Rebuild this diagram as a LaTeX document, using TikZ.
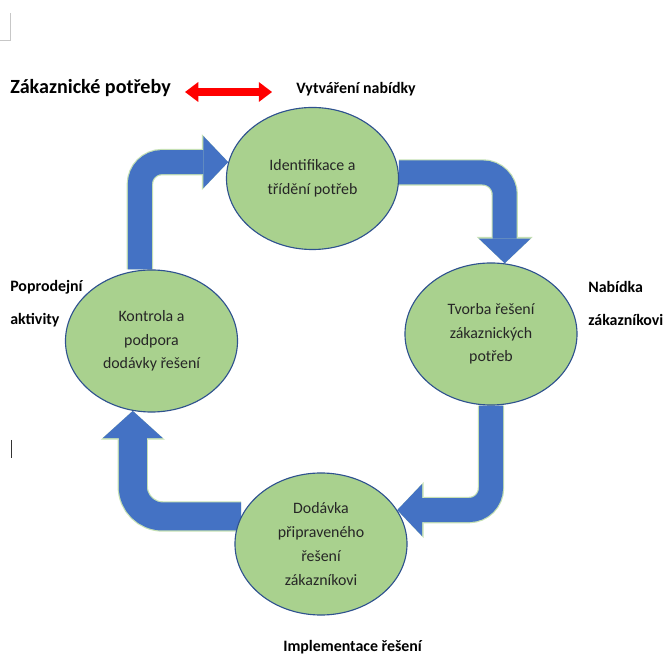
\documentclass[tikz,border=0pt]{standalone}
\usepackage{fontspec}
\setmainfont{Carlito}
\usepackage{xcolor}
\usetikzlibrary{arrows.meta,shapes.geometric}
\pgfdeclarelayer{background}
\pgfsetlayers{background,main}
\definecolor{cyfill}{RGB}{169,209,142}
\definecolor{cyline}{RGB}{47,82,143}
\definecolor{cyblue}{RGB}{68,114,196}
\definecolor{cyrim}{RGB}{197,224,180}
\definecolor{cytext}{RGB}{38,38,38}
\tikzset{
  krok/.style={ellipse, draw=cyline, line width=0.8pt, fill=cyfill,
               minimum width=4.3cm, minimum height=3.55cm, inner sep=0pt,
               align=center, text=cytext, font=\fontsize{11.3}{16.9}\selectfont},
  popis/.style={font=\bfseries\fontsize{11.3}{23.5}\selectfont, inner sep=0pt,
                align=left, anchor=west},
  tok/.style={draw=cyblue, line width=0.6cm, rounded corners=0.55cm,
              -{Triangle[length=0.62cm, width=1.3cm, line width=0pt]},
              preaction={draw=cyrim, line width=0.66cm,
                -{Triangle[length=0.66cm, width=1.4cm, line width=0pt]}}},
  tokwide/.style={draw=cyblue, line width=0.7cm, rounded corners=0.75cm,
              -{Triangle[length=0.68cm, width=1.5cm, line width=0pt]},
              preaction={draw=cyrim, line width=0.76cm,
                -{Triangle[length=0.72cm, width=1.6cm, line width=0pt]}}},
  vazba/.style={draw=red, line width=0.22cm,
                {Triangle[length=0.33cm, width=0.5cm, line width=0pt]}-{Triangle[length=0.33cm, width=0.5cm, line width=0pt]}},
}

\begin{document}
\begin{tikzpicture}[x=0.025cm, y=-0.025cm]
\useasboundingbox (0,0) rectangle (665,655);
% page corner and cursor
\draw[black!22, line width=0.5pt] (0,40) -- (10.6,40) -- (10.6,13);
\draw[black!80, line width=0.5pt] (11.7,440) -- (11.7,458);
% cycle
\node[krok] (ident) at (312.5,178.5) {Identifikace a\\třídění potřeb};
\node[krok] (tvorba) at (491,334) {Tvorba řešení\\zákaznických\\potřeb};
\node[krok] (kontr) at (151.5,341) {Kontrola a\\podpora\\dodávky řešení};
\node[krok] (dodav) at (321,544) {Dodávka\\připraveného\\řešení\\zákazníkovi};
% labels
\node[popis, font=\bfseries\fontsize{14.3}{17}\selectfont] (zak) at (10,88) {Zákaznické potřeby};
\node[popis] (vytv) at (296,89) {Vytváření nabídky};
\node[popis] (nab) at (588,303.5) {Nabídka\\zákazníkovi};
\node[popis] (popr) at (10,303.5) {Poprodejní\\aktivity};
\node[popis] (impl) at (283,647) {Implementace řešení};
\draw[vazba, shorten <=0.35cm, shorten >=0.6cm] ([yshift=-0.1cm]zak.east) -- ([yshift=-0.1cm]zak.east -| vytv.west);
\begin{pgfonlayer}{background}
\draw[tok] ([xshift=-0.29cm]kontr.north) |- (ident.169);
\draw[tok] (ident.4) -| (tvorba.79);
\draw[tok] (tvorba.south) |- (dodav.24);
\draw[tokwide] (dodav.161) -| (kontr.255);
\end{pgfonlayer}
\end{tikzpicture}
\end{document}
